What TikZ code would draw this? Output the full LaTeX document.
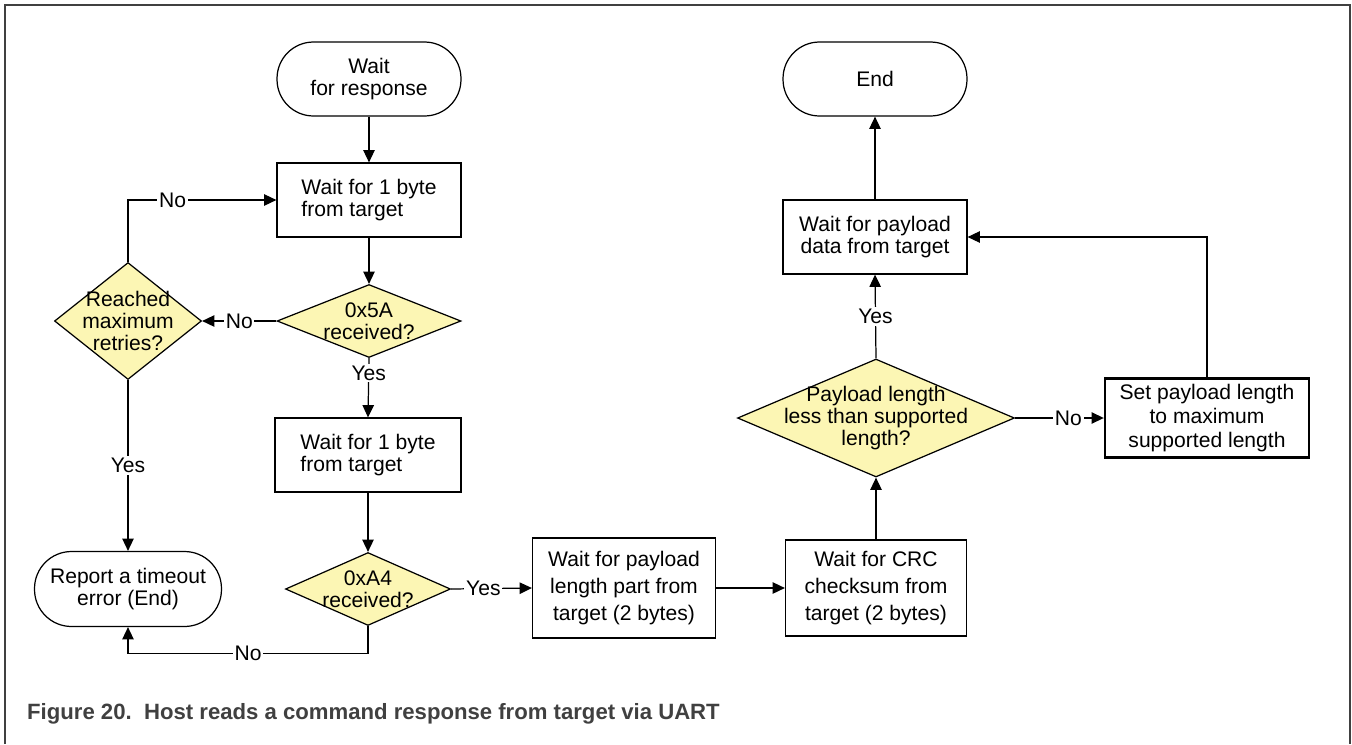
\documentclass[tikz,border=0pt]{standalone}
\usepackage{fontspec}
\setmainfont{Liberation Sans}
\usetikzlibrary{shapes.geometric, arrows.meta}

\definecolor{decfill}{RGB}{252,246,180}
\definecolor{framegray}{RGB}{64,64,64}

\tikzset{
	term/.style = {draw, line width=0.7pt, rounded corners=0.73cm, minimum width=3.68cm, minimum height=1.48cm, align=center},
	procbox/.style = {draw, line width=0.7pt, minimum width=3.68cm, minimum height=1.48cm, align=center},
	dec/.style = {draw, diamond, line width=0.7pt, fill=decfill, inner sep=0pt},
	flow/.style = {->, line width=0.7pt},
	lbl/.style = {fill=white, inner sep=1pt}
}

\begin{document}
\begin{tikzpicture}[x=0.02cm, y=-0.02cm, >={Triangle[length=7pt, width=6.5pt]}, font=\fontsize{12}{12.5}\selectfont]
	\useasboundingbox (0, 0) rectangle (1352, 744);
	\draw[framegray, line width=1.6pt] (5, 744) -- (5, 5) -- (1350, 5) -- (1350, 744);

	% left column
	\node[term] (start) at (369, 79) {Wait\\for response};
	\node[procbox, align=left] (byte1) at (369, 200) {Wait for 1 byte\\from target};
	\node[dec, minimum width=3.68cm, minimum height=1.46cm, label={[align=center]center:0x5A\\received?}] (hdr1) at (369, 321) {};
	\node[dec, minimum width=2.94cm, minimum height=2.34cm, label={[align=center]center:Reached\\maximum\\retries?}] (retry) at (128, 321) {};
	\node[procbox, align=left, minimum width=3.72cm] (byte2) at (368, 455) {Wait for 1 byte\\from target};
	\node[dec, minimum width=3.3cm, minimum height=1.46cm, label={[align=center]center:0xA4\\received?}] (hdr2) at (368, 589) {};
	\node[term, minimum width=3.74cm, minimum height=1.5cm, rounded corners=0.74cm] (timeout) at (128, 589) {Report a timeout\\error (End)};

	% right part
	\node[procbox, minimum width=3.66cm, minimum height=2cm, font=\fontsize{12}{15.5}\selectfont] (paylen) at (624, 588) {Wait for payload\\length part from\\target (2 bytes)};
	\node[procbox, minimum width=3.62cm, minimum height=1.92cm, font=\fontsize{12}{15.5}\selectfont] (crc) at (876, 588) {Wait for CRC\\checksum from\\target (2 bytes)};
	\node[dec, minimum width=5.54cm, minimum height=2.36cm, label={[align=center]center:Payload length\\less than supported\\length?}] (lencheck) at (876, 418) {};
	\node[procbox, line width=1.4pt, minimum width=4.08cm, font=\fontsize{12}{13.5}\selectfont] (setmax) at (1207, 418) {Set payload length\\to maximum\\supported length};
	\node[procbox] (paydata) at (875, 237) {Wait for payload\\data from target};
	\node[term] (end) at (875, 79) {End};

	% connectors
	\draw[flow] (start) -- (byte1);
	\draw[flow] (byte1) -- (hdr1);
	\draw[flow] (hdr1.west) -- (retry.east) node[midway, lbl] {No};
	\draw[flow] (retry.north) |- (byte1.west) node[pos=0.65, lbl] {No};
	\draw[flow] (retry.south) -- (timeout.north) node[midway, lbl] {Yes};
	\draw[flow] (hdr1.south) -- (byte2.north) node[pos=0.25, lbl] {Yes};
	\draw[flow] (byte2) -- (hdr2);
	\draw[flow] (hdr2.south) -- ++(0, 27) -| node[pos=0.25, lbl] {No} (timeout.south);
	\draw[flow] (hdr2.east) -- (paylen.west) node[pos=0.4, lbl] {Yes};
	\draw[flow] (paylen.east) -- (crc.west);
	\draw[flow] (crc.north) -- (lencheck.south);
	\draw[flow] (lencheck.north) -- (paydata.south) node[midway, lbl] {Yes};
	\draw[flow] (lencheck.east) -- (setmax.west) node[pos=0.6, lbl] {No};
	\draw[flow] (setmax.north) |- (paydata.east);
	\draw[flow] (paydata) -- (end);

	\node[anchor=base west, text=framegray, font=\bfseries\fontsize{12.6}{14}\selectfont] (caption) at (21, 719) {Figure 20.\ \ Host reads a command response from target via UART};
\end{tikzpicture}
\end{document}
